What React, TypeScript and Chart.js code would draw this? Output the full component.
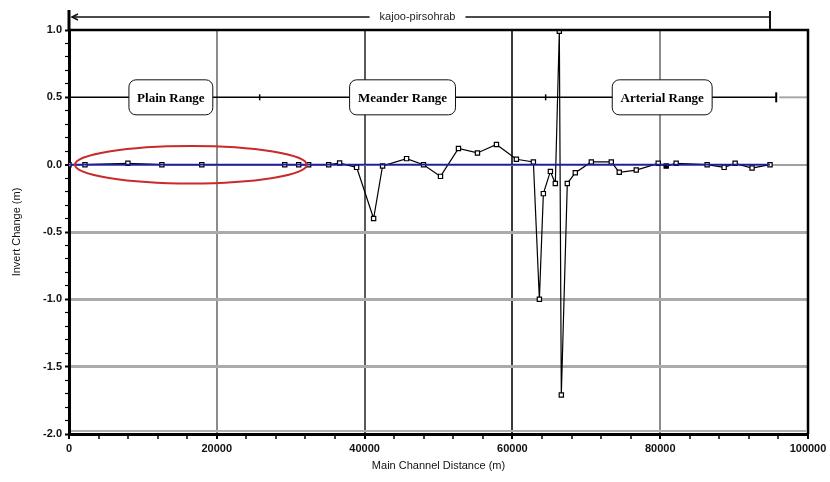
import React, { useEffect, useRef } from "react";
import { Chart, registerables } from "chart.js";

Chart.register(...registerables);

// ---- data ----
const distances = [
  0, 2160, 7970, 12570, 17970, 29190, 31080, 32430, 35140, 36620, 38920, 41220, 42430,
  45680, 47970, 50270, 52700, 55270, 57840, 60540, 62840, 63650, 64190, 65140, 65810,
  66350, 66620, 67430, 68510, 70680, 73380, 74460, 76760, 79730, 80810, 82160, 86350,
  88650, 90140, 92430, 94860,
];
const invertChange = [
  0, 0, 0.01, 0, 0, 0, 0, 0, 0, 0.012, -0.02, -0.4, -0.01,
  0.045, 0, -0.087, 0.12, 0.087, 0.15, 0.04, 0.02, -1.0, -0.215, -0.05, -0.14,
  0.99, -1.71, -0.14, -0.06, 0.02, 0.02, -0.057, -0.04, 0.01, -0.01, 0.01, 0,
  -0.02, 0.01, -0.025, 0,
];
const filledMarkers = [80810];
const zeroLineX = [0, 94860];
const zeroLineY = [0, 0];

const xMajorTicks = [0, 20000, 40000, 60000, 80000, 100000];
const yMajorTicks = [-2, -1.5, -1, -0.5, 0, 0.5, 1];

const reachName = "kajoo-pirsohrab";
const reachStart = 400;
const reachEnd = 94860;
const reachLabelCenter = 47160;

const rangeNames = ["Plain Range", "Meander Range", "Arterial Range"];
const rangeBoxStart = [8110, 37970, 73510];
const rangeBoxEnd = [19460, 52300, 87030];
const rangeDividers = [25800, 64500];
const rangeLineLevel = 0.5;
const rangeLineEnd = 95700;
const rangeBoxHalfHeight = 0.13;

const ellipseCenterX = 16490;
const ellipseHalfWidthX = 15680;
const ellipseHalfHeightY = 0.139;

const xTitle = "Main Channel Distance (m)";
const yTitle = "Invert Change (m)";

const isMajor = (v: number, list: number[]) => list.some((m) => Math.abs(m - v) < 1e-6);

const overlayPlugin = {
  id: "overlay",
  afterDatasetsDraw(chart: any) {
    const { ctx, chartArea: a, scales } = chart;
    const x = scales.x;
    const y = scales.y;
    ctx.save();

    // red ellipse
    const cx = x.getPixelForValue(ellipseCenterX);
    const rx = x.getPixelForValue(ellipseCenterX + ellipseHalfWidthX) - cx;
    const cy = y.getPixelForValue(0);
    const ry = y.getPixelForValue(-ellipseHalfHeightY) - cy;
    ctx.strokeStyle = "#c92a2a";
    ctx.lineWidth = 2;
    ctx.beginPath();
    ctx.ellipse(cx, cy, rx, ry, 0, 0, Math.PI * 2);
    ctx.stroke();

    // range line at 0.5
    const ry5 = y.getPixelForValue(rangeLineLevel);
    ctx.strokeStyle = "#000";
    ctx.lineWidth = 1.5;
    ctx.beginPath();
    ctx.moveTo(x.getPixelForValue(0), ry5);
    ctx.lineTo(x.getPixelForValue(rangeLineEnd), ry5);
    ctx.stroke();
    ctx.strokeStyle = "#a8a8a8";
    ctx.lineWidth = 2;
    ctx.beginPath();
    ctx.moveTo(x.getPixelForValue(rangeLineEnd) + 3, ry5);
    ctx.lineTo(a.right, ry5);
    ctx.stroke();
    ctx.strokeStyle = "#000";
    ctx.lineWidth = 1.5;
    rangeDividers.forEach((d) => {
      const px = x.getPixelForValue(d);
      ctx.beginPath();
      ctx.moveTo(px, ry5 - 3);
      ctx.lineTo(px, ry5 + 3);
      ctx.stroke();
    });
    {
      const px = x.getPixelForValue(rangeLineEnd);
      ctx.lineWidth = 2;
      ctx.beginPath();
      ctx.moveTo(px, ry5 - 5);
      ctx.lineTo(px, ry5 + 5);
      ctx.stroke();
    }

    // range boxes
    rangeNames.forEach((name, i) => {
      const l = x.getPixelForValue(rangeBoxStart[i]);
      const r = x.getPixelForValue(rangeBoxEnd[i]);
      const t = y.getPixelForValue(rangeLineLevel + rangeBoxHalfHeight);
      const b = y.getPixelForValue(rangeLineLevel - rangeBoxHalfHeight);
      ctx.beginPath();
      (ctx as any).roundRect(l, t, r - l, b - t, 7);
      ctx.fillStyle = "#fff";
      ctx.fill();
      ctx.strokeStyle = "#111";
      ctx.lineWidth = 1;
      ctx.stroke();
      ctx.fillStyle = "#000";
      ctx.font = "bold 13px 'Liberation Serif'";
      ctx.textAlign = "center";
      ctx.textBaseline = "middle";
      ctx.fillText(name, (l + r) / 2, (t + b) / 2 + 1);
    });

    // frame top & right
    ctx.strokeStyle = "#000";
    ctx.lineWidth = 2.5;
    ctx.beginPath();
    ctx.moveTo(a.left, a.top);
    ctx.lineTo(a.right, a.top);
    ctx.lineTo(a.right, a.bottom);
    ctx.stroke();
    // left axis extension above chart
    ctx.lineWidth = 3;
    ctx.beginPath();
    ctx.moveTo(a.left, a.top - 20);
    ctx.lineTo(a.left, a.top);
    ctx.stroke();
    // gray inner line above bottom axis
    ctx.strokeStyle = "#b0b0b0";
    ctx.lineWidth = 2;
    ctx.beginPath();
    ctx.moveTo(a.left + 2, a.bottom - 3);
    ctx.lineTo(a.right - 2, a.bottom - 3);
    ctx.stroke();

    // reach line at top
    const ty = a.top - 13;
    const xs = x.getPixelForValue(reachStart);
    const xe = x.getPixelForValue(reachEnd);
    const xc = x.getPixelForValue(reachLabelCenter);
    ctx.font = "11px 'Liberation Sans'";
    const tw = ctx.measureText(reachName).width;
    ctx.strokeStyle = "#111";
    ctx.lineWidth = 1.5;
    ctx.beginPath();
    ctx.moveTo(xs, ty);
    ctx.lineTo(xc - tw / 2 - 10, ty);
    ctx.moveTo(xc + tw / 2 + 10, ty);
    ctx.lineTo(xe, ty);
    ctx.stroke();
    ctx.beginPath();
    ctx.moveTo(xs + 6, ty - 3);
    ctx.lineTo(xs, ty);
    ctx.lineTo(xs + 6, ty + 3);
    ctx.stroke();
    ctx.lineWidth = 2;
    ctx.beginPath();
    ctx.moveTo(xe, ty - 6);
    ctx.lineTo(xe, a.top - 1);
    ctx.stroke();
    ctx.fillStyle = "#222";
    ctx.textAlign = "center";
    ctx.textBaseline = "middle";
    ctx.fillText(reachName, xc, ty);

    // axis titles
    ctx.fillStyle = "#111";
    ctx.font = "11px 'Liberation Sans'";
    ctx.fillText(xTitle, (a.left + a.right) / 2, 466);
    ctx.save();
    ctx.translate(17, (a.top + a.bottom) / 2);
    ctx.rotate(-Math.PI / 2);
    ctx.fillText(yTitle, 0, 0);
    ctx.restore();

    ctx.restore();
  },
};

export default function App() {
  const ref = useRef<HTMLCanvasElement | null>(null);

  useEffect(() => {
    if (!ref.current) return;
    const chart = new Chart(ref.current, {
      type: "line",
      data: {
        datasets: [
          {
            label: "zero",
            data: zeroLineX.map((d, i) => ({ x: d, y: zeroLineY[i] })),
            borderColor: "#1a1ab4",
            borderWidth: 1.6,
            pointRadius: 0,
            order: 0,
          },
          {
            label: "Invert Change",
            data: distances.map((d, i) => ({ x: d, y: invertChange[i] })),
            borderColor: "#000",
            borderWidth: 1.2,
            pointStyle: "rect",
            pointRadius: 3,
            pointBorderWidth: 1.2,
            pointBorderColor: "#000",
            pointBackgroundColor: distances.map((d) =>
              filledMarkers.includes(d) ? "#000" : "#fff"
            ),
            tension: 0,
            order: 1,
          },
        ],
      },
      options: {
        animation: false,
        responsive: false,
        maintainAspectRatio: false,
        layout: { padding: { top: 30, right: 22, left: 0, bottom: 0 } },
        plugins: {
          legend: { display: false },
          tooltip: { enabled: false },
          title: { display: false },
        },
        scales: {
          x: {
            type: "linear",
            min: 0,
            max: 100000,
            afterFit: (s: any) => {
              s.height = 48;
            },
            ticks: {
              stepSize: 4000,
              autoSkip: false,
              maxRotation: 0,
              padding: 3,
              color: "#111",
              font: { family: "'Liberation Sans'", size: 11, weight: "bold" },
              callback: (v: any) => (isMajor(Number(v), xMajorTicks) ? String(v) : ""),
            },
            grid: {
              color: (c: any) => {
                const v = c.tick?.value;
                if (v === 20000 || v === 80000) return "#8c8c8c";
                if (v === 40000) return "#5a5a5a";
                if (v === 60000) return "#3a3a3a";
                return "rgba(0,0,0,0)";
              },
              lineWidth: 2,
              tickColor: "#000",
              tickWidth: (c: any) => (isMajor(c.tick?.value, xMajorTicks) ? 2 : 1.5),
              tickLength: 5,
            },
            border: { display: true, color: "#000", width: 3 },
          },
          y: {
            type: "linear",
            min: -2,
            max: 1,
            afterFit: (s: any) => {
              s.width = 69;
            },
            ticks: {
              stepSize: 0.1,
              autoSkip: false,
              padding: 3,
              color: "#111",
              font: { family: "'Liberation Sans'", size: 11, weight: "bold" },
              callback: (v: any) =>
                isMajor(Number(v), yMajorTicks) ? Number(v).toFixed(1) : "",
            },
            grid: {
              color: (c: any) => {
                const v = c.tick?.value;
                if (v === undefined) return "rgba(0,0,0,0)";
                if (Math.abs(v) < 1e-6) return "#a0a0a0";
                if (v < -0.01 && v > -1.99 && isMajor(v, yMajorTicks)) return "#ababab";
                return "rgba(0,0,0,0)";
              },
              lineWidth: (c: any) => (Math.abs(c.tick?.value) < 1e-6 ? 2 : 3),
              tickColor: "#000",
              tickWidth: (c: any) => (isMajor(c.tick?.value, yMajorTicks) ? 2 : 1.2),
              tickLength: 4,
            },
            border: { display: true, color: "#000", width: 3 },
          },
        },
      },
      plugins: [overlayPlugin],
    } as any);
    return () => chart.destroy();
  }, []);

  return (
    <div style={{ position: "absolute", left: 0, top: 0, width: 830, height: 482, background: "#fff" }}>
      <canvas ref={ref} width={830} height={482} style={{ display: "block" }} />
    </div>
  );
}
